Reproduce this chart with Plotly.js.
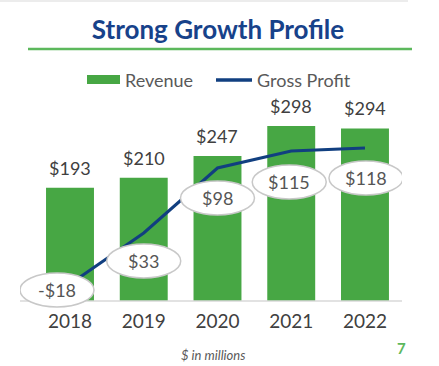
<!DOCTYPE html>
<html><head><meta charset="utf-8">
<script src="https://cdn.plot.ly/plotly-3.0.1.min.js"></script>
<style>html,body{margin:0;padding:0;background:#fff;}</style>
</head><body><div id="chart" style="width:439px;height:366px;"></div>
<script>
// ---- data ----
const years = ['2018', '2019', '2020', '2021', '2022'];
const revenue = [193, 210, 247, 298, 294];
const grossProfit = [-18, 33, 98, 115, 118];
const revenueLabels = ['$193', '$210', '$247', '$298', '$294'];
const grossProfitLabels = ['-$18', '$33', '$98', '$115', '$118'];

// ---- label placement (pixels) ----
const gpDx = [-13, 0, 0, -2, 1];
const gpDy = [6, 28, 30, 31, 30];

const W = 439, H = 366;
const M = {l: 20, r: 37, t: 110, b: 48};
const BASE = 301; // pixel row of the category axis line
const PW = W - M.l - M.r, PH = H - M.t - M.b;
const px = x => (x - M.l) / PW;
const py = y => (H - M.b - y) / PH;

const GREEN = '#47a744', BLUE = '#113f80', TEXT = '#404040';
const FONT = 'Lato, "Open Sans", sans-serif';
const XR = [-0.678, 4.502];

const traces = [
  {type: 'bar', x: years, y: revenue, name: 'Revenue', width: 0.65,
   marker: {color: GREEN}, hoverinfo: 'skip'},
  {type: 'scatter', mode: 'lines', x: years, y: grossProfit, yaxis: 'y2', name: 'Gross Profit',
   line: {color: BLUE, width: 3}, hoverinfo: 'skip'}
];

const shapes = [
  {type: 'line', xref: 'paper', yref: 'paper', x0: px(0), x1: px(408), y0: py(1), y1: py(1),
   line: {color: '#e6e6e6', width: 1.5}},
  {type: 'line', xref: 'paper', yref: 'paper', x0: px(28), x1: px(412), y0: py(49), y1: py(49),
   line: {color: '#5cb85c', width: 2.5}},
  {type: 'rect', xref: 'paper', yref: 'paper', x0: px(87), x1: px(120), y0: py(75), y1: py(84),
   fillcolor: GREEN, line: {width: 0}},
  {type: 'line', xref: 'paper', yref: 'paper', x0: px(216), x1: px(252), y0: py(80), y1: py(80),
   line: {color: BLUE, width: 3.5}},
  // baseline (drawn before the ellipses so they cover it)
  {type: 'line', layer: 'above', xref: 'x', yref: 'y', x0: XR[0], x1: XR[1], y0: 0, y1: 0,
   line: {color: '#d9d9d9', width: 1.5}}
];
const annotations = [
  {xref: 'paper', yref: 'paper', x: px(123), y: py(80), xanchor: 'left', yanchor: 'middle',
   text: 'Revenue', showarrow: false, font: {family: FONT, size: 18, color: '#595959'}},
  {xref: 'paper', yref: 'paper', x: px(255), y: py(80), xanchor: 'left', yanchor: 'middle',
   text: 'Gross Profit', showarrow: false, font: {family: FONT, size: 18, color: '#595959'}},
  {xref: 'paper', yref: 'paper', x: px(213), y: py(355), xanchor: 'center', yanchor: 'middle',
   text: '<i>$ in millions</i>', showarrow: false, font: {family: FONT, size: 13, color: '#595959'}},
  {xref: 'paper', yref: 'paper', x: px(401), y: py(348), xanchor: 'center', yanchor: 'middle',
   text: '<b>7</b>', showarrow: false, font: {family: FONT, size: 15, color: '#5cb85c'}}
];

years.forEach((yr, i) => {
  annotations.push({x: i, y: revenue[i], xref: 'x', yref: 'y', yshift: 20, yanchor: 'middle',
    text: revenueLabels[i], showarrow: false, font: {family: FONT, size: 18, color: TEXT}});
  shapes.push({type: 'circle', layer: 'above', xref: 'x', yref: 'y2',
    xsizemode: 'pixel', ysizemode: 'pixel', xanchor: i, yanchor: grossProfit[i],
    x0: gpDx[i] - 37, x1: gpDx[i] + 37, y0: -gpDy[i] - 17, y1: -gpDy[i] + 17,
    fillcolor: '#ffffff', line: {color: '#c8c8c8', width: 1.5}});
  annotations.push({x: i, y: grossProfit[i], xref: 'x', yref: 'y2', xshift: gpDx[i], yshift: -gpDy[i],
    yanchor: 'middle', text: grossProfitLabels[i], showarrow: false,
    font: {family: FONT, size: 18, color: '#555555'}});
});

// revenue axis: 0.587 px per $M, zero at BASE; gross-profit axis: 1 px per $M, zero at row 266
const yPx = 0.587;
const layout = {
  width: W, height: H, margin: M, showlegend: false,
  paper_bgcolor: '#ffffff', plot_bgcolor: '#ffffff',
  title: {text: '<b>Strong Growth Profile</b>', x: 218 / W, xanchor: 'center', y: 1 - 30 / H, yanchor: 'middle',
    font: {family: FONT, size: 26, color: '#17428a'}},
  xaxis: {type: 'category', range: XR, anchor: 'free', position: py(BASE),
    showline: false, ticks: '', ticklabelstandoff: 7, showgrid: false, zeroline: false,
    tickfont: {family: FONT, size: 19, color: TEXT}},
  yaxis: {range: [-(H - M.b - BASE) / yPx, (BASE - M.t) / yPx], visible: false, showgrid: false, zeroline: false},
  yaxis2: {range: [-(H - M.b - 266), 266 - M.t], overlaying: 'y', visible: false, showgrid: false, zeroline: false},
  shapes: shapes, annotations: annotations
};

Plotly.newPlot('chart', traces, layout, {displayModeBar: false, staticPlot: true});
</script></body></html>
